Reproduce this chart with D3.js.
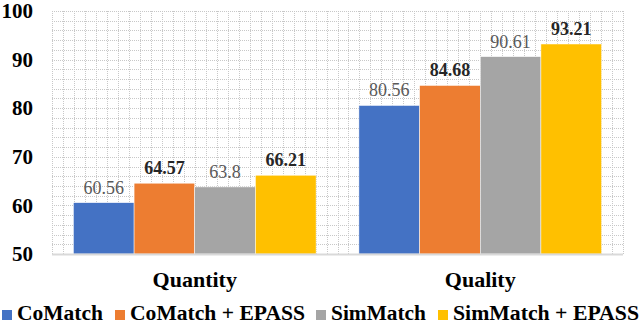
<!DOCTYPE html>
<html>
<head>
<meta charset="utf-8">
<script src="https://cdnjs.cloudflare.com/ajax/libs/d3/7.8.5/d3.min.js"></script>
<style>
  body { margin: 0; background: #fff; }
  text { font-family: "Liberation Serif", "Times New Roman", serif; }
</style>
</head>
<body>
<div id="chart"></div>
<script>
// Chart data
const categories = ['Quantity', 'Quality']
const seriesNames = ['CoMatch', 'CoMatch + EPASS', 'SimMatch', 'SimMatch + EPASS']
const seriesColors = ['#4472C4', '#ED7D31', '#A5A5A5', '#FFC000']
const seriesBold = [false, true, false, true]
const quantityValues = [60.56, 64.57, 63.8, 66.21]
const qualityValues = [80.56, 84.68, 90.61, 93.21]
const yTicks = [50, 60, 70, 80, 90, 100]

const width = 640
const height = 324
const margin = { top: 11, right: 17, bottom: 70, left: 52 }

const svg = d3.select('#chart')
  .append('svg')
  .attr('width', width)
  .attr('height', height)

const plotW = width - margin.left - margin.right
const plotH = height - margin.top - margin.bottom

const g = svg.append('g')
  .attr('transform', `translate(${margin.left}, ${margin.top})`)

const x0 = d3.scaleBand()
  .domain(categories)
  .range([0, plotW])
  .paddingInner(0.15)
  .paddingOuter(0.075)

const x1 = d3.scaleBand()
  .domain(seriesNames)
  .range([0, x0.bandwidth()])

const y = d3.scaleLinear()
  .domain([50, 100])
  .range([plotH, 0])

// Dotted background grid
const gridX = d3.scaleLinear().domain([0, 52]).range([0, plotW])
g.append('g')
  .selectAll('line')
  .data(d3.range(0, 53))
  .join('line')
  .attr('x1', d => Math.round(gridX(d)) + 0.5)
  .attr('x2', d => Math.round(gridX(d)) + 0.5)
  .attr('y1', 0)
  .attr('y2', plotH)
  .attr('stroke', '#c8c8c8')
  .attr('stroke-width', 1)
  .attr('stroke-dasharray', '1,1')

g.append('g')
  .selectAll('line')
  .data(d3.range(52, 101, 2))
  .join('line')
  .attr('x1', 0)
  .attr('x2', plotW)
  .attr('y1', d => Math.round(y(d)) + 0.5)
  .attr('y2', d => Math.round(y(d)) + 0.5)
  .attr('stroke', '#c8c8c8')
  .attr('stroke-width', 1)
  .attr('stroke-dasharray', '1,1')

// Y axis labels
const yAxis = g.append('g')
  .call(d3.axisLeft(y).tickValues(yTicks).tickSize(0).tickPadding(19))
yAxis.select('.domain').remove()
yAxis.selectAll('text')
  .style('font-family', '"Liberation Serif", serif')
  .style('font-size', '21px')
  .style('font-weight', 'bold')
  .attr('fill', '#000')

// Bars
const rows = categories.map((c, i) => ({
  cat: c,
  values: i === 0 ? quantityValues : qualityValues
}))

const groups = g.selectAll('.grp')
  .data(rows)
  .join('g')
  .attr('class', 'grp')
  .attr('transform', d => `translate(${x0(d.cat)}, 0)`)

groups.selectAll('rect')
  .data(d => d.values.map((v, i) => ({ v, i })))
  .join('rect')
  .attr('x', d => x1(seriesNames[d.i]))
  .attr('y', d => y(d.v))
  .attr('width', x1.bandwidth())
  .attr('height', d => plotH - y(d.v))
  .attr('fill', d => seriesColors[d.i])
  .attr('stroke', '#fff')
  .attr('stroke-width', 0.5)

groups.selectAll('.val')
  .data(d => d.values.map((v, i) => ({ v, i })))
  .join('text')
  .attr('class', 'val')
  .attr('x', d => x1(seriesNames[d.i]) + x1.bandwidth() / 2)
  .attr('y', d => y(d.v) - 9)
  .attr('text-anchor', 'middle')
  .style('font-size', '18px')
  .style('font-weight', d => seriesBold[d.i] ? 'bold' : 'normal')
  .attr('fill', d => seriesBold[d.i] ? '#262626' : '#595959')
  .text(d => d.v)

// Baseline
g.append('line')
  .attr('x1', 0)
  .attr('x2', plotW)
  .attr('y1', plotH + 0.5)
  .attr('y2', plotH + 0.5)
  .attr('stroke', '#d9d9d9')
  .attr('stroke-width', 2)

// Category labels
const xAxis = g.append('g')
  .attr('transform', `translate(0, ${plotH})`)
  .call(d3.axisBottom(x0).tickSize(0).tickPadding(17))
xAxis.select('.domain').remove()
xAxis.selectAll('text')
  .style('font-family', '"Liberation Serif", serif')
  .style('font-size', '22px')
  .style('font-weight', 'bold')
  .attr('fill', '#000')

// Legend
const legendX = [2, 115, 316, 438]
const legendLen = [86, 175, 95, 186]
const legend = svg.append('g')
  .attr('transform', 'translate(0, 310)')
const items = legend.selectAll('g')
  .data(seriesNames)
  .join('g')
  .attr('transform', (d, i) => `translate(${legendX[i]}, 0)`)
items.append('rect')
  .attr('width', 10)
  .attr('height', 10)
  .attr('fill', (d, i) => seriesColors[i])
items.append('text')
  .attr('x', 15)
  .attr('y', 10)
  .attr('textLength', (d, i) => legendLen[i])
  .attr('lengthAdjust', 'spacingAndGlyphs')
  .style('font-size', '20px')
  .style('font-weight', 'bold')
  .attr('fill', '#000')
  .text(d => d)
</script>
</body>
</html>
